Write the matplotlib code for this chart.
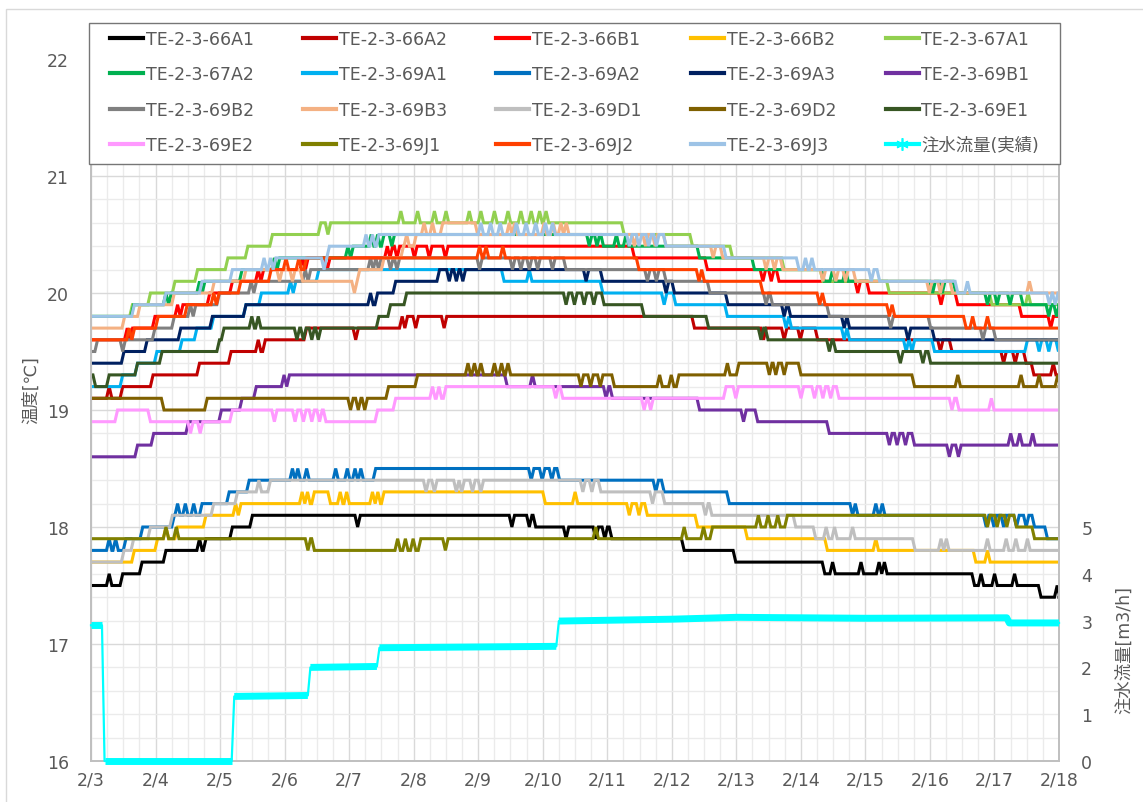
import matplotlib
matplotlib.use('Agg')
import matplotlib.pyplot as plt
from matplotlib.lines import Line2D
from matplotlib.patches import Rectangle
from matplotlib.ticker import MultipleLocator, FixedLocator

plt.rcParams['font.family'] = ['DejaVu Sans', 'Noto Sans CJK JP']

# ---------------- data (t = days since 2/3 0:00) ----------------
date_labels = ['2/3', '2/4', '2/5', '2/6', '2/7', '2/8', '2/9', '2/10', '2/11',
               '2/12', '2/13', '2/14', '2/15', '2/16', '2/17', '2/18']

names = ['TE-2-3-66A1', 'TE-2-3-66A2', 'TE-2-3-66B1', 'TE-2-3-66B2', 'TE-2-3-67A1',
         'TE-2-3-67A2', 'TE-2-3-69A1', 'TE-2-3-69A2', 'TE-2-3-69A3', 'TE-2-3-69B1',
         'TE-2-3-69B2', 'TE-2-3-69B3', 'TE-2-3-69D1', 'TE-2-3-69D2', 'TE-2-3-69E1',
         'TE-2-3-69E2', 'TE-2-3-69J1', 'TE-2-3-69J2', 'TE-2-3-69J3']
colors = ['#000000', '#C00000', '#FF0000', '#FFC000', '#92D050',
          '#00B050', '#00B0F0', '#0070C0', '#002060', '#7030A0',
          '#808080', '#F4B183', '#BFBFBF', '#7F6000', '#375623',
          '#FF99FF', '#808000', '#FF4000', '#9DC3E6']
flow_name = '注水流量(実績)'

# level changes (t, value) and short excursions (t, value)
lv_66A1 = [(0, 17.5), (0.45, 17.6), (0.75, 17.7), (1.12, 17.8), (1.74, 17.9), (2.15, 18.0),
           (2.46, 18.1), (6.85, 18.0), (8.03, 17.9), (9.15, 17.8), (9.95, 17.7), (11.33, 17.6),
           (13.65, 17.5), (14.68, 17.4)]
sp_66A1 = [(0.24, 17.6), (1.64, 17.9), (4.09, 18.0), (6.48, 18.0), (6.75, 18.0), (7.32, 17.9),
           (7.78, 17.9), (7.92, 17.9), (11.45, 17.7), (11.89, 17.7), (12.17, 17.7), (12.25, 17.7),
           (13.75, 17.6), (13.96, 17.6), (14.27, 17.6), (14.93, 17.5)]

lv_66A2 = [(0, 19.1), (0.45, 19.2), (0.92, 19.3), (1.64, 19.4), (2.13, 19.5), (2.66, 19.6),
           (3.30, 19.7), (4.86, 19.8), (9.31, 19.7), (11.22, 19.6), (13.30, 19.5), (14.45, 19.4),
           (14.57, 19.3)]
sp_66A2 = [(0.24, 19.2), (2.55, 19.6), (4.06, 19.6), (4.78, 19.8), (4.99, 19.7), (5.43, 19.7),
           (10.38, 19.6), (10.70, 19.6), (10.95, 19.6), (13.12, 19.5), (14.10, 19.4), (14.28, 19.4),
           (14.87, 19.4)]

lv_66B1 = [(0, 19.6), (0.58, 19.7), (0.95, 19.8), (1.38, 19.9), (1.80, 20.0), (2.15, 20.1),
           (2.62, 20.2), (3.30, 20.3), (4.62, 20.4), (8.38, 20.3), (9.51, 20.2), (10.62, 20.1),
           (12.02, 20.0), (13.39, 19.9), (14.38, 19.8)]
sp_66B1 = [(0.52, 19.7), (1.30, 19.9), (2.55, 20.2), (3.24, 20.3), (3.62, 20.2), (4.55, 20.4),
           (4.70, 20.3), (4.97, 20.3), (5.20, 20.3), (5.45, 20.3), (10.37, 20.1), (10.50, 20.1),
           (11.84, 20.0), (13.13, 19.9), (14.83, 19.7)]

lv_66B2 = [(0, 17.7), (0.63, 17.8), (0.99, 17.9), (1.30, 18.0), (1.74, 18.1), (2.27, 18.2),
           (3.42, 18.3), (3.67, 18.2), (4.50, 18.3), (7.00, 18.2), (8.58, 18.1), (9.36, 18.0),
           (10.13, 17.9), (11.37, 17.8), (13.67, 17.7)]
sp_66B2 = [(1.12, 18.0), (2.20, 18.2), (3.23, 18.3), (3.31, 18.3), (3.82, 18.3), (3.92, 18.3),
           (4.32, 18.3), (4.40, 18.3), (7.46, 18.3), (8.30, 18.1), (8.45, 18.1), (12.12, 17.9),
           (13.85, 17.8)]

lv_67A1 = [(0, 19.8), (0.60, 19.9), (0.88, 20.0), (1.26, 20.1), (1.61, 20.2), (2.08, 20.3),
           (2.39, 20.4), (2.77, 20.5), (3.52, 20.6), (8.22, 20.5), (9.28, 20.4), (9.90, 20.3),
           (10.70, 20.2), (11.30, 20.1), (12.33, 20.0), (13.92, 19.9)]
sp_67A1 = [(3.63, 20.5), (4.76, 20.7), (5.02, 20.7), (5.28, 20.7), (5.46, 20.7), (5.82, 20.7),
           (6.00, 20.7), (6.21, 20.7), (6.42, 20.7), (6.62, 20.7), (6.78, 20.7), (6.91, 20.7),
           (7.01, 20.7), (14.48, 20.0)]

lv_67A2 = [(0, 19.8), (0.62, 19.9), (1.19, 20.0), (1.71, 20.1), (2.30, 20.2), (2.87, 20.3),
           (4.01, 20.4), (4.50, 20.5), (7.90, 20.4), (9.39, 20.3), (10.24, 20.2), (11.32, 20.1),
           (13.36, 20.0), (14.40, 19.9)]
sp_67A2 = [(1.12, 20.0), (1.64, 20.1), (2.80, 20.3), (3.94, 20.4), (4.30, 20.5), (4.40, 20.5),
           (4.62, 20.4), (7.68, 20.4), (7.80, 20.4), (8.10, 20.5), (8.25, 20.5), (11.45, 20.2),
           (11.65, 20.2), (13.00, 20.0), (13.15, 20.0), (13.85, 19.9), (14.00, 19.9), (14.20, 19.9),
           (14.80, 19.8), (14.92, 19.8)]

lv_69A1 = [(0, 19.2), (0.45, 19.3), (0.68, 19.4), (0.98, 19.5), (1.37, 19.6), (1.60, 19.7),
           (1.86, 19.8), (2.36, 19.9), (2.60, 20.0), (3.12, 20.1), (3.49, 20.2), (6.36, 20.1),
           (7.89, 20.0), (9.02, 19.9), (9.82, 19.8), (10.81, 19.7), (11.71, 19.6), (13.03, 19.5),
           (14.47, 19.6)]
sp_69A1 = [(3.05, 20.1), (6.75, 20.2), (8.84, 19.9), (10.73, 19.7), (11.63, 19.6), (12.59, 19.5),
           (12.68, 19.5), (14.65, 19.5), (14.80, 19.5), (14.95, 19.5)]

lv_69A2 = [(0, 17.8), (0.50, 17.9), (0.76, 18.0), (1.25, 18.1), (1.68, 18.2), (2.10, 18.3),
           (2.41, 18.4), (4.37, 18.5), (7.22, 18.4), (8.84, 18.3), (9.85, 18.2), (11.84, 18.1),
           (14.58, 18.0), (14.78, 17.9)]
sp_69A2 = [(0.24, 17.9), (0.34, 17.9), (1.30, 18.2), (1.42, 18.2), (1.55, 18.2), (3.08, 18.5),
           (3.16, 18.5), (3.30, 18.5), (3.75, 18.5), (3.93, 18.5), (4.05, 18.5), (4.14, 18.5),
           (6.78, 18.4), (6.95, 18.4), (7.10, 18.4), (8.71, 18.3), (11.76, 18.1), (12.12, 18.2),
           (12.22, 18.2), (13.83, 18.0), (13.95, 18.0), (14.10, 18.0), (14.30, 18.0), (14.45, 18.0)]

lv_69A3 = [(0, 19.4), (0.47, 19.5), (0.83, 19.6), (1.35, 19.7), (1.84, 19.8), (2.36, 19.9),
           (4.40, 20.0), (4.68, 20.1), (5.36, 20.2), (7.89, 20.1), (9.00, 20.0), (9.83, 19.9),
           (10.80, 19.8), (11.71, 19.7), (13.03, 19.6)]
sp_69A3 = [(4.29, 20.0), (5.51, 20.1), (5.62, 20.1), (5.72, 20.1), (7.63, 20.1), (8.87, 20.0),
           (10.70, 19.8), (11.63, 19.7), (12.62, 19.6)]

lv_69B1 = [(0, 18.6), (0.68, 18.7), (0.93, 18.8), (1.47, 18.9), (1.98, 19.0), (2.30, 19.1),
           (2.52, 19.2), (3.03, 19.3), (6.41, 19.2), (8.04, 19.1), (9.39, 19.0), (10.29, 18.9),
           (11.40, 18.8), (12.72, 18.7)]
sp_69B1 = [(2.95, 19.3), (6.80, 19.3), (7.94, 19.1), (10.07, 18.9), (12.33, 18.7), (12.45, 18.7),
           (12.58, 18.7), (13.26, 18.6), (13.40, 18.6), (14.21, 18.8), (14.35, 18.8), (14.55, 18.8)]

lv_69B2 = [(0, 19.5), (0.06, 19.6), (0.95, 19.7), (1.25, 19.8), (1.58, 19.9), (1.95, 20.0),
           (2.50, 20.1), (3.34, 20.2), (4.45, 20.3), (7.32, 20.2), (8.87, 20.1), (9.55, 20.0),
           (10.52, 19.9), (11.40, 19.8), (12.97, 19.7), (13.98, 19.6)]
sp_69B2 = [(0.45, 19.5), (1.50, 19.9), (2.44, 20.1), (3.28, 20.2), (4.29, 20.3), (4.37, 20.3),
           (4.60, 20.2), (4.70, 20.2), (5.98, 20.2), (6.49, 20.2), (6.62, 20.2), (6.75, 20.2),
           (6.88, 20.2), (7.11, 20.2), (8.58, 20.1), (8.72, 20.1), (10.42, 19.9), (12.35, 19.7),
           (13.78, 19.6)]

lv_69B3 = [(0, 19.7), (0.48, 19.8), (0.72, 19.9), (1.25, 20.0), (1.87, 20.1), (2.36, 20.2),
           (3.24, 20.1), (4.12, 20.2), (4.50, 20.3), (4.80, 20.4), (5.00, 20.5), (5.41, 20.6),
           (5.95, 20.5), (8.87, 20.4), (9.75, 20.3), (10.68, 20.2), (11.81, 20.1), (13.31, 20.0)]
sp_69B3 = [(2.88, 20.1), (3.08, 20.1), (4.04, 20.0), (4.85, 20.5), (5.12, 20.6), (5.25, 20.6),
           (6.44, 20.6), (6.52, 20.6), (6.98, 20.6), (7.12, 20.6), (7.24, 20.6), (7.32, 20.6),
           (8.38, 20.4), (8.55, 20.4), (8.70, 20.4), (9.60, 20.3), (10.42, 20.2), (10.55, 20.2),
           (11.30, 20.1), (11.50, 20.1), (11.65, 20.1), (12.95, 20.0), (13.12, 20.0), (14.50, 20.1)]

lv_69D1 = [(0, 17.7), (0.47, 17.8), (0.62, 17.9), (0.88, 18.0), (1.22, 18.1), (1.86, 18.2),
           (2.23, 18.3), (2.74, 18.4), (7.86, 18.3), (8.85, 18.2), (9.58, 18.1), (10.88, 18.0),
           (11.19, 17.9), (12.73, 17.8)]
sp_69D1 = [(2.56, 18.4), (2.65, 18.3), (5.15, 18.3), (5.28, 18.3), (5.62, 18.3), (5.70, 18.3),
           (5.87, 18.3), (6.00, 18.3), (7.58, 18.3), (7.72, 18.3), (8.66, 18.2), (9.48, 18.1),
           (11.35, 18.0), (11.48, 18.0), (11.76, 18.0), (13.13, 17.9), (13.21, 17.9), (13.85, 17.9),
           (14.14, 17.9), (14.29, 17.9), (14.47, 17.9)]

lv_69D2 = [(0, 19.1), (1.09, 19.0), (1.76, 19.1), (4.57, 19.2), (5.02, 19.3), (8.07, 19.2),
           (9.07, 19.3), (10.00, 19.4), (10.96, 19.3), (12.72, 19.2)]
sp_69D2 = [(3.98, 19.0), (4.10, 19.0), (4.20, 19.0), (5.80, 19.4), (5.90, 19.4), (6.00, 19.4),
           (6.21, 19.4), (6.32, 19.4), (6.42, 19.4), (7.55, 19.2), (7.70, 19.2), (7.85, 19.2),
           (8.77, 19.3), (8.95, 19.3), (9.82, 19.4), (10.47, 19.3), (10.57, 19.3), (10.70, 19.3),
           (13.39, 19.3), (14.37, 19.3), (14.65, 19.3), (14.94, 19.3)]

lv_69E1 = [(0, 19.3), (0.03, 19.2), (0.24, 19.3), (0.68, 19.4), (1.06, 19.5), (1.95, 19.6),
           (2.02, 19.7), (4.42, 19.8), (4.60, 19.9), (4.85, 20.0), (7.91, 19.9), (8.53, 19.8),
           (9.53, 19.7), (10.45, 19.6), (11.50, 19.5), (12.97, 19.4)]
sp_69E1 = [(2.45, 19.8), (2.55, 19.8), (3.15, 19.6), (3.25, 19.6), (3.38, 19.6), (3.48, 19.6),
           (7.32, 19.9), (7.45, 19.9), (7.60, 19.9), (7.75, 19.9), (10.34, 19.6), (11.40, 19.5),
           (12.50, 19.4), (12.85, 19.4)]

lv_69E2 = [(0, 18.9), (0.37, 19.0), (0.88, 18.9), (2.15, 19.0), (3.60, 18.9), (4.40, 19.0),
           (4.68, 19.1), (5.46, 19.2), (7.27, 19.1), (9.80, 19.2), (11.55, 19.1), (13.41, 19.0)]
sp_69E2 = [(1.50, 18.8), (1.65, 18.8), (2.80, 18.9), (3.12, 18.9), (3.25, 18.9), (3.38, 18.9),
           (3.50, 18.9), (5.25, 19.2), (5.35, 19.2), (7.16, 19.1), (8.53, 19.0), (8.63, 19.0),
           (9.95, 19.1), (10.96, 19.1), (11.17, 19.1), (11.30, 19.1), (11.42, 19.1), (13.30, 19.0),
           (13.91, 19.1)]

lv_69J1 = [(0, 17.9), (3.42, 17.8), (5.07, 17.9), (9.59, 18.0), (10.75, 18.1), (14.30, 18.0),
           (14.58, 17.9)]
sp_69J1 = [(1.12, 18.0), (1.28, 18.0), (3.32, 17.8), (4.71, 17.9), (4.83, 17.9), (4.95, 17.9),
           (5.45, 17.8), (7.78, 18.0), (9.15, 18.0), (9.45, 18.0), (10.30, 18.1), (10.45, 18.1),
           (10.60, 18.1), (13.85, 18.0), (14.00, 18.0), (14.15, 18.0)]

lv_69J2 = [(0, 19.6), (0.62, 19.7), (1.00, 19.8), (1.45, 19.9), (1.92, 20.0), (2.28, 20.1),
           (2.75, 20.2), (3.30, 20.3), (8.45, 20.2), (9.44, 20.1), (10.37, 20.0), (11.32, 19.9),
           (12.41, 19.8), (13.52, 19.7)]
sp_69J2 = [(0.55, 19.7), (1.86, 20.0), (2.98, 20.3), (3.18, 20.3), (5.98, 20.4), (6.08, 20.4),
           (6.34, 20.4), (9.38, 20.1), (11.25, 19.9), (12.33, 19.8), (13.62, 19.8), (13.85, 19.8)]

lv_69J3 = [(0, 19.8), (0.63, 19.9), (1.12, 20.0), (1.68, 20.1), (2.15, 20.2), (2.82, 20.3),
           (3.65, 20.4), (4.42, 20.5), (8.87, 20.4), (9.80, 20.3), (10.93, 20.2), (12.18, 20.1),
           (13.39, 20.0)]
sp_69J3 = [(2.64, 20.3), (2.74, 20.3), (3.57, 20.2), (4.22, 20.5), (4.32, 20.5), (6.00, 20.6),
           (6.15, 20.6), (6.30, 20.6), (6.55, 20.6), (6.70, 20.6), (6.85, 20.6), (7.00, 20.6),
           (7.11, 20.6), (8.30, 20.4), (8.45, 20.4), (8.60, 20.4), (8.72, 20.4), (11.03, 20.3),
           (11.13, 20.3), (12.05, 20.1), (13.54, 20.1), (14.81, 19.9), (14.90, 19.9)]

series_levels = [lv_66A1, lv_66A2, lv_66B1, lv_66B2, lv_67A1, lv_67A2, lv_69A1, lv_69A2,
                 lv_69A3, lv_69B1, lv_69B2, lv_69B3, lv_69D1, lv_69D2, lv_69E1, lv_69E2,
                 lv_69J1, lv_69J2, lv_69J3]
series_spikes = [sp_66A1, sp_66A2, sp_66B1, sp_66B2, sp_67A1, sp_67A2, sp_69A1, sp_69A2,
                 sp_69A3, sp_69B1, sp_69B2, sp_69B3, sp_69D1, sp_69D2, sp_69E1, sp_69E2,
                 sp_69J1, sp_69J2, sp_69J3]

# injection flow [m3/h]
flow_t = [0, 0.17, 0.21, 2.18, 2.22, 3.36, 3.40, 4.43, 4.47, 7.21, 7.25, 9.0, 10.0, 12.0,
          14.19, 14.23, 15.0]
flow_v = [2.9, 2.9, 0.0, 0.0, 1.38, 1.40, 2.0, 2.02, 2.42, 2.45, 2.99, 3.03, 3.07, 3.05,
          3.06, 2.95, 2.95]

T_END = 15.0
RAMP = 1.0 / 24.0  # hourly sampling -> transitions take one sample


def level_at(levels, t):
    v = levels[0][1]
    for tt, vv in levels:
        if tt <= t:
            v = vv
    return v


def build(levels, spikes):
    ev = [(t, v) for t, v in levels[1:]]
    for t, s in spikes:
        ev.append((t, s))
        ev.append((t + RAMP, level_at(levels, t + RAMP)))
    ev.sort(key=lambda e: e[0])
    xs = [0.0]
    ys = [levels[0][1]]
    cur = levels[0][1]
    for t, v in ev:
        ts = max(t, xs[-1])
        if ts > xs[-1]:
            xs.append(ts)
            ys.append(cur)
        xs.append(ts + RAMP)
        ys.append(v)
        cur = v
    xs.append(T_END)
    ys.append(cur)
    return xs, ys


# ---------------- figure ----------------
W, H = 1143, 803
fig = plt.figure(figsize=(W / 100, H / 100), dpi=100)
L, R, B, T = 91, 1059, 762, 60
ax = fig.add_axes([L / W, 1 - B / H, (R - L) / W, (B - T) / H])
ax2 = ax.twinx()

ax.set_xlim(0, 15)
ax.set_ylim(16, 22)
ax2.set_ylim(0, 15)

grid_major = '#d9d9d9'
grid_minor = '#ebebeb'
ax.xaxis.set_major_locator(FixedLocator(range(16)))
ax.xaxis.set_minor_locator(MultipleLocator(0.25))
ax.yaxis.set_major_locator(MultipleLocator(1))
ax.yaxis.set_minor_locator(MultipleLocator(0.2))
ax.grid(which='minor', color=grid_minor, lw=1.0)
ax.grid(which='major', color=grid_major, lw=1.0)
ax.set_axisbelow(True)
ax.set_xticklabels(date_labels)

tick_color = '#595959'
fs = 12.5
ax.tick_params(axis='both', which='both', length=0, labelsize=fs, labelcolor=tick_color)
ax.tick_params(axis='x', pad=7)
ax.tick_params(axis='y', pad=16)
ax2.yaxis.set_major_locator(FixedLocator([0, 1, 2, 3, 4, 5]))
ax2.tick_params(axis='y', length=0, labelsize=fs, labelcolor=tick_color, pad=16)

for a in (ax, ax2):
    for s in a.spines.values():
        s.set_color('#bfbfbf')
        s.set_linewidth(1.2)
    a.spines['top'].set_visible(False)

handles = []
for name, col, lv, sp in zip(names, colors, series_levels, series_spikes):
    xs, ys = build(lv, sp)
    h, = ax.plot(xs, ys, color=col, lw=2.2, solid_joinstyle='miter', label=name)
    handles.append(h)

# flow: thin line everywhere, thick band along the flat parts (dense markers in original)
ax2.plot(flow_t, flow_v, color='#00FFFF', lw=1.6, zorder=3, clip_on=False)
seg_x, seg_y = [flow_t[0]], [flow_v[0]]
for i in range(1, len(flow_t)):
    if abs(flow_v[i] - flow_v[i - 1]) > 0.2:
        ax2.plot(seg_x, seg_y, color='#00FFFF', lw=5.0, zorder=3, solid_capstyle='butt',
                 clip_on=False)
        seg_x, seg_y = [flow_t[i]], [flow_v[i]]
    else:
        seg_x.append(flow_t[i])
        seg_y.append(flow_v[i])
ax2.plot(seg_x, seg_y, color='#00FFFF', lw=5.0, zorder=3, solid_capstyle='butt', clip_on=False)
flow_handle = Line2D([], [], color='#00FFFF', lw=1.6, marker=(6, 2, 0), markersize=9,
                     markeredgewidth=1.2, markeredgecolor='#00FFFF')
handles.append(flow_handle)
labels = names + [flow_name]

# axis titles
ax.set_ylabel('温度[℃]', fontsize=fs, color=tick_color)
ax.yaxis.set_label_coords(-0.053, 0.53)
ax2.set_ylabel('注水流量[m3/h]', fontsize=fs, color=tick_color)
ax2.yaxis.set_label_coords(1.058, 0.16)

# chart-area border
fig.patches.append(Rectangle((6 / W, -0.1), 1.2, 1 - 10 / H + 0.1, transform=fig.transFigure,
                             facecolor='none', edgecolor='#d9d9d9', lw=1.0, zorder=0.5))
# legend box
fig.patches.append(Rectangle((89 / W, 1 - 165 / H), (1060 - 89) / W, (165 - 24) / H,
                             transform=fig.transFigure, facecolor='white',
                             edgecolor='#767676', lw=1.0, zorder=3))

# row-major ordering into 5 columns x 4 rows
nrow, ncol = 4, 5
order = [r * ncol + c for c in range(ncol) for r in range(nrow)]
leg = fig.legend([handles[i] for i in order], [labels[i] for i in order], ncol=ncol,
                 loc='upper left', bbox_to_anchor=(110 / W, 1 - 31 / H), frameon=False,
                 fontsize=fs, handlelength=1.9, handletextpad=0.15, columnspacing=2.85,
                 labelspacing=1.0, borderpad=0, borderaxespad=0)
for t in leg.get_texts():
    t.set_color(tick_color)
for lh in leg.get_lines():
    lh.set_linewidth(3.0)
leg.set_zorder(5)

fig.savefig('out.png', dpi=100)
